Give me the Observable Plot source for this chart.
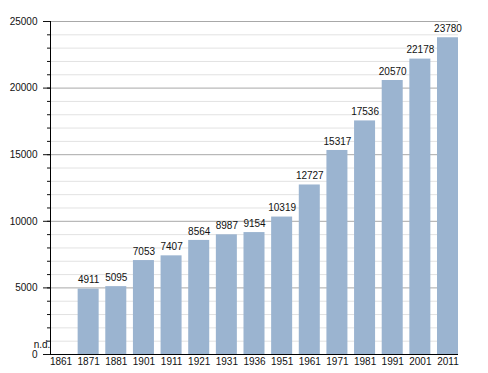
<!DOCTYPE html>
<html>
<head>
<meta charset="utf-8">
<script src="https://cdn.jsdelivr.net/npm/d3@7"></script>
<script src="https://cdn.jsdelivr.net/npm/@observablehq/plot@0.6"></script>
<style>
  html, body { margin: 0; padding: 0; background: #fff; }
  #chart svg { display: block; }
</style>
</head>
<body>
<div id="chart"></div>
<script>
const years = ["1861","1871","1881","1901","1911","1921","1931","1936","1951","1961","1971","1981","1991","2001","2011"];
const population = [null,4911,5095,7053,7407,8564,8987,9154,10319,12727,15317,17536,20570,22178,23780];
const majorTicks = [0,5000,10000,15000,20000,25000];
const minorTicks = d3.range(0, 25001, 1000);
const missingLabel = "n.d.";

const data = years.map((y, i) => ({year: y, value: population[i]}));
const present = data.filter(d => d.value != null);
const missing = data.filter(d => d.value == null);

const font = "'Liberation Sans', Arial, sans-serif";

const leftLine = (index, scales, values, dimensions) => {
  const g = d3.create("svg:g");
  const [y0, y1] = [scales.y(0), scales.y(25000)];
  g.append("line")
    .attr("x1", dimensions.marginLeft + 0.5).attr("x2", dimensions.marginLeft + 0.5)
    .attr("y1", y0).attr("y2", y1)
    .attr("stroke", "#000");
  return g.node();
};

const chart = Plot.plot({
  width: 488,
  height: 373,
  marginLeft: 50,
  marginRight: 30,
  marginTop: 21,
  marginBottom: 19,
  style: {fontFamily: font, fontSize: "10px", color: "#111", background: "#fff"},
  x: {type: "band", domain: years, paddingInner: 0.24, paddingOuter: 0, align: 0, round: false},
  y: {domain: [0, 25000]},
  marks: [
    Plot.ruleY(minorTicks.filter(v => v % 5000 !== 0), {stroke: "#e2e2e2", strokeWidth: 1}),
    Plot.ruleY(majorTicks.filter(v => v > 0), {stroke: "#a8a8a8", strokeWidth: 1}),
    Plot.barY(present, {x: "year", y: "value", fill: "#9bb4d0"}),
    Plot.text(present, {x: "year", y: "value", text: d => String(d.value), dy: -9, fill: "#111", fontSize: 10}),
    Plot.text(missing, {x: "year", y: () => 0, text: () => missingLabel, dx: -19, dy: -10, fill: "#111", fontSize: 10}),
    Plot.ruleY([0], {stroke: "#000"}),
    leftLine,
    Plot.axisY({ticks: minorTicks, tickSize: 3, tickFormat: () => "", label: null}),
    Plot.axisY({ticks: majorTicks, tickSize: 7, tickPadding: 6, tickFormat: d => String(d), label: null, fontSize: 10}),
    Plot.axisX({tickSize: 0, tickPadding: 3, label: null, fontSize: 10})
  ]
});

document.getElementById("chart").appendChild(chart);
</script>
</body>
</html>
